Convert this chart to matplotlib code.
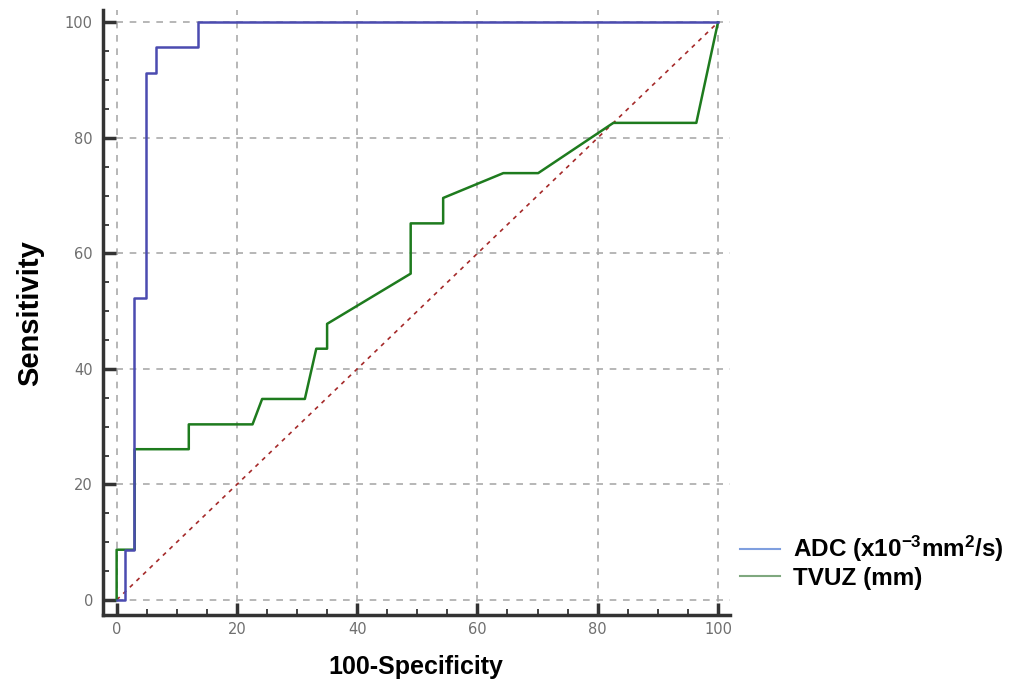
import matplotlib
matplotlib.use("Agg")
import matplotlib.pyplot as plt
from matplotlib.lines import Line2D
from matplotlib.ticker import MultipleLocator

# ROC points (100-Specificity, Sensitivity)
adc_x = [0, 1.4, 1.4, 2.9, 2.9, 4.9, 4.9, 6.6, 6.6, 13.6, 13.6, 100]
adc_y = [0, 0, 8.7, 8.7, 52.2, 52.2, 91.3, 91.3, 95.7, 95.7, 100, 100]

tvuz_x = [0, 0, 3.0, 3.0, 12.0, 12.0, 22.6, 24.2, 31.3, 33.2, 35.0, 35.0,
          48.9, 48.9, 54.3, 54.3, 64.3, 70.1, 82.6, 96.4, 100]
tvuz_y = [0, 8.7, 8.7, 26.1, 26.1, 30.4, 30.4, 34.8, 34.8, 43.5, 43.5, 47.8,
          56.5, 65.2, 65.2, 69.6, 73.9, 73.9, 82.6, 82.6, 100]

ref_x = [0, 100]
ref_y = [0, 100]

labels = ["ADC (x10$^{-3}$mm$^{2}$/s)", "TVUZ (mm)"]
ticks = [0, 20, 40, 60, 80, 100]

plt.rcParams["mathtext.fontset"] = "custom"
plt.rcParams["mathtext.bf"] = "Liberation Sans:bold"
plt.rcParams["mathtext.rm"] = "Liberation Sans:bold"
plt.rcParams["mathtext.default"] = "bf"

fig = plt.figure(figsize=(10.16, 6.83), dpi=100)
ax = fig.add_axes([0.101, 0.0996, 0.6175, 0.8854])

ax.plot(ref_x, ref_y, color="#a52a2a", lw=1.2, linestyle=(0, (2.5, 3)))
ax.plot(tvuz_x, tvuz_y, color="#1e7b1e", lw=1.8)
ax.plot(adc_x, adc_y, color="#4b4bb0", lw=1.8)

ax.set_xlim(-2.33, 102.0)
ax.set_ylim(-2.6, 102.1)
ax.set_xticks(ticks)
ax.set_yticks(ticks)
ax.xaxis.set_minor_locator(MultipleLocator(5))
ax.yaxis.set_minor_locator(MultipleLocator(5))
ax.grid(True, which="major", color="#aaaaaa", linestyle=(0, (4, 4)), lw=1.2)

for s in ["top", "right"]:
    ax.spines[s].set_visible(False)
for s in ["left", "bottom"]:
    ax.spines[s].set_linewidth(2.5)
    ax.spines[s].set_color("#333333")

ax.tick_params(which="major", direction="in", length=9, width=2.5, color="#333333",
               labelsize=10.5, labelcolor="#6f6f6f")
ax.tick_params(axis="y", which="major", pad=7)
ax.tick_params(axis="x", which="major", pad=5)
ax.tick_params(which="minor", direction="in", length=4.5, width=1.3, color="#333333")

ax.set_xlabel("100-Specificity", fontsize=18, fontweight="bold", family="Liberation Sans", labelpad=13)
ax.set_ylabel("Sensitivity", fontsize=21, fontweight="bold", family="Liberation Sans", labelpad=15)

handles = [Line2D([], [], color="#7f9fdf", lw=1.5), Line2D([], [], color="#7fa87f", lw=1.5)]
fig.legend(handles, labels, loc="upper left", bbox_to_anchor=(0.728, 0.218), frameon=False,
           prop={"family": "Liberation Sans", "weight": "bold", "size": 17.5},
           handlelength=1.65, handletextpad=0.55, labelspacing=0.1, borderpad=0, borderaxespad=0)

plt.savefig("out.png", dpi=100)
